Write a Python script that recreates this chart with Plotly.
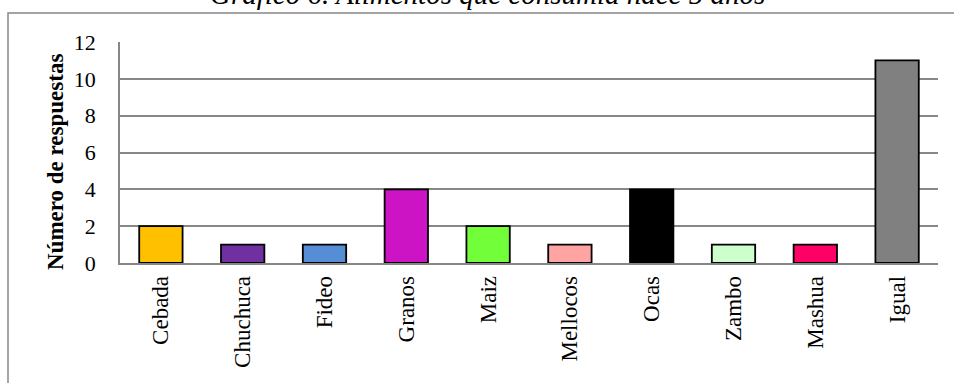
import plotly.graph_objects as go

categories = ["Cebada", "Chuchuca", "Fideo", "Granos", "Maiz", "Mellocos", "Ocas", "Zambo", "Mashua", "Igual"]
values = [2, 1, 1, 4, 2, 1, 4, 1, 1, 11]
colors = ["#FFC000", "#7030A0", "#558ED5", "#CC14C4", "#72FF3A", "#FFA3A3", "#000000", "#CCFFCC", "#FF0066", "#808080"]
y_ticks = [0, 2, 4, 6, 8, 10, 12]

title_text = "Gráfico 6. Alimentos que consumía hace 5 años"
y_title = "Número de respuestas"

FONT = "Liberation Serif"
GRID = "#878787"

fig = go.Figure(
    go.Bar(
        x=categories,
        y=values,
        marker=dict(color=colors, line=dict(color="#000000", width=1.8)),
        width=0.53,
        hoverinfo="x+y",
    )
)

W, H = 954, 383
L, R, T, B = 120, 16, 42, 120
pw, ph = W - L - R, H - T - B

def px_to_paper_x(px):
    return (px - L) / pw

def px_to_paper_y(py):
    return (H - B - py) / ph

fig.update_layout(
    width=W,
    height=H,
    margin=dict(l=L, r=R, t=T, b=B, pad=0),
    paper_bgcolor="white",
    plot_bgcolor="white",
    showlegend=False,
    font=dict(family=FONT, color="#000000", size=22),
    annotations=[
        dict(
            text=title_text,
            xref="paper", yref="paper",
            x=px_to_paper_x(487), y=px_to_paper_y(12),
            xanchor="center", yanchor="bottom",
            showarrow=False,
            font=dict(family=FONT, size=29, color="#000000", style="italic"),
        ),
        dict(
            text="<b>" + y_title + "</b>",
            xref="paper", yref="paper",
            x=px_to_paper_x(55), y=px_to_paper_y(162),
            xanchor="center", yanchor="middle",
            textangle=-90,
            showarrow=False,
            font=dict(family=FONT, size=23, color="#000000"),
        ),
    ],
    shapes=[
        dict(
            type="rect", xref="paper", yref="paper",
            x0=px_to_paper_x(8), x1=px_to_paper_x(970),
            y0=px_to_paper_y(13), y1=px_to_paper_y(400),
            line=dict(color=GRID, width=1.5),
            fillcolor="rgba(0,0,0,0)",
            layer="below",
        )
    ],
)

fig.update_xaxes(
    type="category",
    tickangle=-90,
    showgrid=False,
    showline=True,
    linecolor=GRID,
    linewidth=1.5,
    ticks="",
    ticklabelstandoff=2,
    tickfont=dict(family=FONT, size=23),
)

fig.update_yaxes(
    range=[0, 12],
    tickvals=y_ticks,
    showgrid=True,
    gridcolor=GRID,
    gridwidth=1.5,
    showline=True,
    linecolor=GRID,
    linewidth=1.5,
    zeroline=False,
    ticks="",
    ticklabelstandoff=18,
    tickfont=dict(family=FONT, size=22),
)

fig.write_html("out.html")
